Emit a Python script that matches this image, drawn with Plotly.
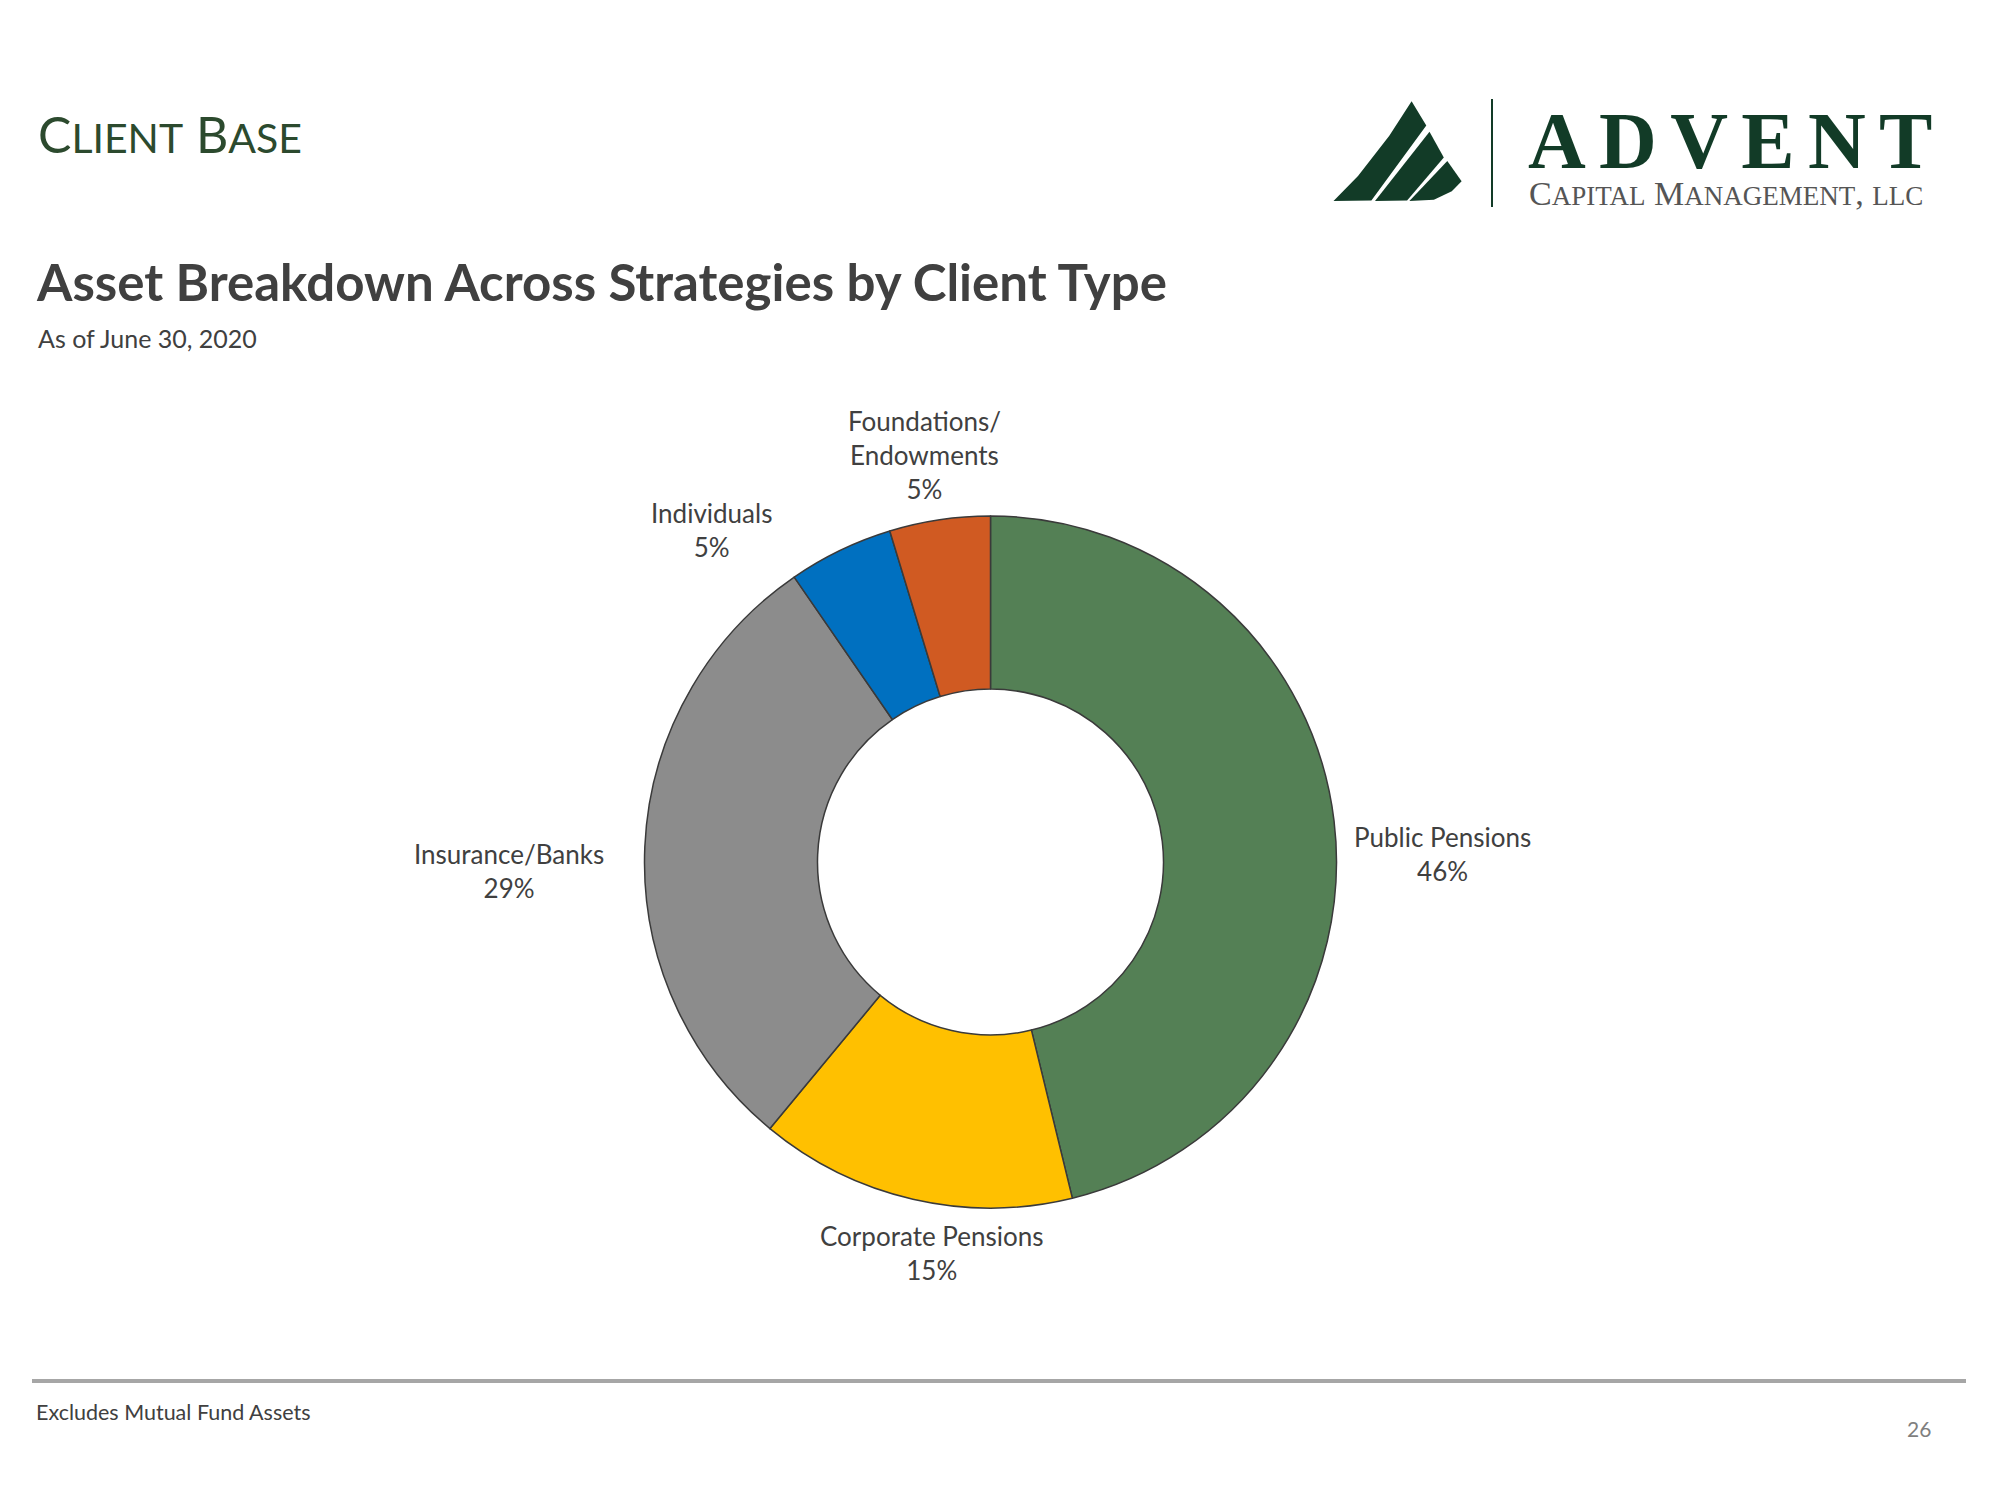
import math
import plotly.graph_objects as go

# ---- data ----
client_types = ["Public Pensions", "Corporate Pensions", "Insurance/Banks", "Individuals", "Foundations/<br>Endowments"]
shares = [46.2, 14.8, 29.4, 4.9, 4.7]
slice_colors = ["#548055", "#FFC000", "#8C8C8C", "#0070C0", "#D05A22"]

# label placement style (radius factor, angle nudge in degrees)
label_radius = [1.306, 1.142, 1.391, 1.252, 1.193]
label_nudge = [5.8, -4.3, -3.6, -14.3, -0.8]

title_text = "Asset Breakdown Across Strategies by Client Type"
subtitle_text = "As of June 30, 2020"
footnote_text = "Excludes Mutual Fund Assets"
page_number = "26"

W, H = 2000, 1500
def px(x): return x / W
def py(y): return 1 - y / H

FONT = "Lato"
TXT = "#404040"
GREEN_DARK = "#123B27"

CX, CY, R = 990.5, 862.0, 346.0

fig = go.Figure()
fig.add_trace(go.Pie(
    labels=client_types,
    values=shares,
    hole=0.5,
    sort=False,
    direction="clockwise",
    rotation=0,
    marker=dict(colors=slice_colors, line=dict(color="#3A3A3A", width=1.5)),
    textinfo="none",
    domain=dict(x=[px(CX - R), px(CX + R)], y=[py(CY + R), py(CY - R)]),
    showlegend=False,
    hoverinfo="label+percent",
))

ann = []
# slice labels, positioned from the cumulative shares
total = sum(shares)
cum = 0.0
for name, v, k, nud in zip(client_types, shares, label_radius, label_nudge):
    mid = (cum + v / 2) / total * 360 + nud
    cum += v
    th = math.radians(mid)
    lx = CX + k * R * math.sin(th)
    ly = CY - k * R * math.cos(th)
    ann.append(dict(x=px(lx), y=py(ly), xref="paper", yref="paper", xanchor="center", yanchor="middle",
                    text=f"{name}<br>{round(v / total * 100)}%", showarrow=False,
                    font=dict(family=FONT, size=26, color=TXT)))

# header
ann.append(dict(x=px(36), y=py(134), xref="paper", yref="paper", xanchor="left", yanchor="middle",
                text="C<span style='font-size:41px'>LIENT</span> B<span style='font-size:41px'>ASE</span>",
                showarrow=False, font=dict(family=FONT, size=50, color="#2C4A2E")))
ann.append(dict(x=px(34), y=py(281), xref="paper", yref="paper", xanchor="left", yanchor="middle",
                text="<b>" + title_text + "</b>", showarrow=False,
                font=dict(family=FONT, size=51, color=TXT)))
ann.append(dict(x=px(36), y=py(338), xref="paper", yref="paper", xanchor="left", yanchor="middle",
                text=subtitle_text, showarrow=False, font=dict(family=FONT, size=25, color=TXT)))
# footer
ann.append(dict(x=px(34), y=py(1412), xref="paper", yref="paper", xanchor="left", yanchor="middle",
                text=footnote_text, showarrow=False, font=dict(family=FONT, size=21.5, color=TXT)))
ann.append(dict(x=px(1933), y=py(1428), xref="paper", yref="paper", xanchor="right", yanchor="middle",
                text=page_number, showarrow=False, font=dict(family=FONT, size=21, color="#7F7F7F")))
# logo text
sp = "\u2006"
ann.append(dict(x=px(1526), y=py(141), xref="paper", yref="paper", xanchor="left", yanchor="middle",
                text="<b>" + sp.join("ADVENT") + "</b>", showarrow=False,
                font=dict(family="Liberation Serif", size=80, color=GREEN_DARK)))
ann.append(dict(x=px(1527), y=py(194), xref="paper", yref="paper", xanchor="left", yanchor="middle",
                text="C<span style='font-size:27px'>APITAL</span> M<span style='font-size:27px'>ANAGEMENT</span>, <span style='font-size:27px'>LLC</span>",
                showarrow=False, font=dict(family="Liberation Serif", size=34, color="#555555")))

def path(pts):
    return "M " + " L ".join(f"{px(x)},{py(y)}" for x, y in pts) + " Z"

stripes = [
    [(1411.6, 101.3), (1426.3, 125.6), (1371.4, 200.4), (1333.5, 201.1), (1358, 176.1), (1389.3, 135.7)],
    [(1429.5, 131.7), (1443.8, 157.6), (1407.1, 200.4), (1375, 201.1)],
    [(1447.3, 161), (1461.6, 181.2), (1451.8, 191.3), (1433.9, 199.7), (1409.4, 201.1)],
]
shapes = []
for s in stripes:
    shapes.append(dict(type="path", xref="paper", yref="paper", path=path(s),
                       fillcolor=GREEN_DARK, line=dict(width=0)))
shapes.append(dict(type="line", xref="paper", yref="paper", x0=px(1492), x1=px(1492), y0=py(99), y1=py(207),
                   line=dict(color=GREEN_DARK, width=2)))
shapes.append(dict(type="line", xref="paper", yref="paper", x0=px(32), x1=px(1966), y0=py(1381), y1=py(1381),
                   line=dict(color="#A6A6A6", width=4)))

fig.update_layout(
    width=W, height=H,
    margin=dict(l=0, r=0, t=0, b=0),
    paper_bgcolor="white", plot_bgcolor="white",
    annotations=ann, shapes=shapes,
)
fig.write_html("out.html")
